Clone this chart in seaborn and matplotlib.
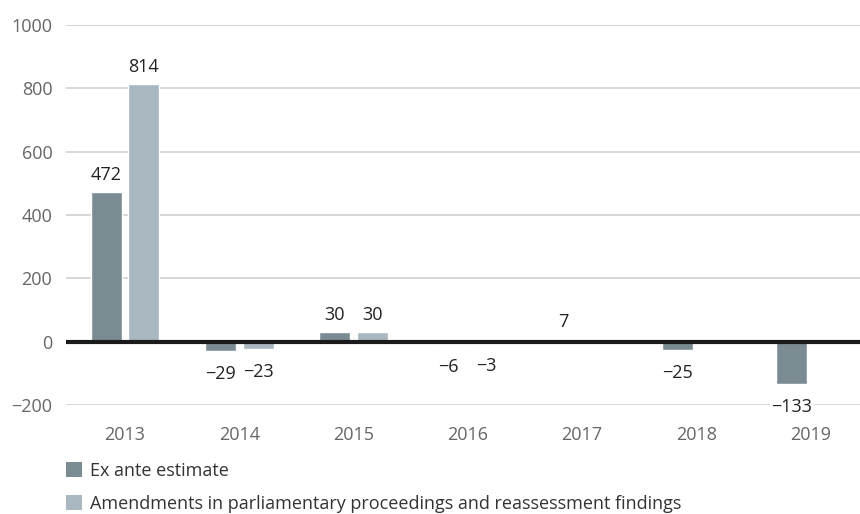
import numpy as np
import pandas as pd
import seaborn as sns
import matplotlib.pyplot as plt
from matplotlib.patches import Patch

years = ["2013", "2014", "2015", "2016", "2017", "2018", "2019"]
ex_ante = [472, -29, 30, -6, 7, -25, -133]
amendments = [814, -23, 30, -3, np.nan, np.nan, np.nan]
series = ["Ex ante estimate",
          "Amendments in parliamentary proceedings and reassessment findings"]
colors = ["#7b8b92", "#a9b8c0"]

df = pd.DataFrame({
    "year": years * 2,
    "value": ex_ante + amendments,
    "series": [series[0]] * len(years) + [series[1]] * len(years),
}).dropna()

sns.set_theme(style="white")
plt.rcParams["font.family"] = ["Open Sans", "DejaVu Sans"]

fig = plt.figure(figsize=(8.6, 5.14), dpi=100)
ax = fig.add_axes([0.077, 0.212, 0.923, 0.739])

sns.barplot(data=df, x="year", y="value", hue="series", order=years,
            hue_order=series, palette=colors, width=0.66, gap=0.18,
            saturation=1, legend=False, ax=ax)

ax.set_ylim(-200, 1000)
ax.set_xlim(-0.515, 6.435)
ax.set_yticks(range(-200, 1001, 200))
ax.set_yticklabels([str(t).replace("-", "\u2212") for t in range(-200, 1001, 200)])
ax.grid(axis="y", color="#d0d0d0", linewidth=1.2, zorder=0)
ax.set_axisbelow(True)
ax.axhline(0, color="#1a1a1a", linewidth=3, zorder=3)
for s in ax.spines.values():
    s.set_visible(False)
ax.tick_params(axis="both", length=0, labelsize=13, labelcolor="#666666")
ax.tick_params(axis="x", pad=15)
ax.tick_params(axis="y", pad=10)
ax.set_xlabel("")
ax.set_ylabel("")

def fmt(v):
    return f"{v:.0f}".replace("-", "\u2212")

for c in ax.containers:
    vals = c.datavalues
    pos = [fmt(v) if v >= 0 else "" for v in vals]
    neg = [fmt(v) if v < 0 else "" for v in vals]
    for labels, pad in ((pos, 6), (neg, 10)):
        texts = ax.bar_label(c, labels=labels, padding=pad, fontsize=13,
                             color="#222222", zorder=4)
        for t in texts:
            if t.get_text():
                t.set_bbox(dict(facecolor="white", edgecolor="none", pad=1))

handles = [Patch(facecolor=col, edgecolor="none") for col in colors]
fig.legend(handles, series, loc="upper left", bbox_to_anchor=(0.0767, 0.102),
           frameon=False, fontsize=13, labelcolor="#333333", handlelength=0.9,
           handleheight=0.9, handletextpad=0.45, labelspacing=0.85,
           borderaxespad=0, borderpad=0)

fig.savefig("out.png", dpi=100)
